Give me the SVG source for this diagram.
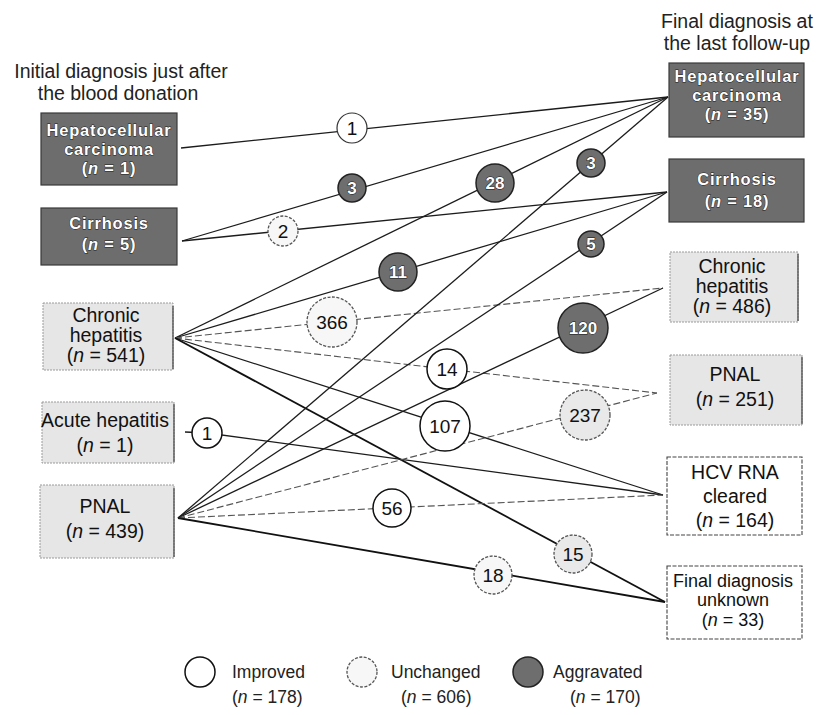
<svg xmlns="http://www.w3.org/2000/svg" width="825" height="715" viewBox="0 0 825 715">
<style>
.t{font-family:"Liberation Sans",Arial,sans-serif;fill:#111;text-anchor:middle}
.lt{font-size:19.5px}
.ttl{font-family:"Liberation Sans",Arial,sans-serif;fill:#222;font-size:19.5px;text-anchor:middle}
.dt{font-family:"Liberation Sans",Arial,sans-serif;font-weight:bold;font-size:16.5px;fill:#fff;stroke:#1a1a1a;stroke-width:0.9;paint-order:stroke;letter-spacing:0.8px;text-anchor:middle}
.dbox{fill:#6d6d6d;stroke:#3a3a3a;stroke-width:1.2}
.lbox{fill:#e6e6e6;stroke:#9a9a9a;stroke-width:1;stroke-dasharray:2 1}
.edge{stroke:#555;stroke-width:1.4}
.ln{fill:none;stroke:#1c1c1c;stroke-width:1.3}
.lnb{fill:none;stroke:#111;stroke-width:1.8}
.lnl{fill:none;stroke:#555;stroke-width:1.1;stroke-dasharray:7 3}
.imp{fill:#fff;stroke:#111;stroke-width:1.5}
.unc{fill:#f7f7f7;stroke:#555;stroke-width:1.3;stroke-dasharray:3 1.5}
.unc2{fill:#e9e9e9;stroke:#555;stroke-width:1.3;stroke-dasharray:3 1.5}
.agg{fill:#6e6e6e;stroke:#222;stroke-width:1.5}
.num{font-family:"Liberation Sans",Arial,sans-serif;font-size:19px;fill:#111;text-anchor:middle}
.wnum{font-family:"Liberation Sans",Arial,sans-serif;font-weight:bold;font-size:17px;fill:#fff;stroke:#111;stroke-width:0.9;paint-order:stroke;text-anchor:middle}
.lg{font-family:"Liberation Sans",Arial,sans-serif;font-size:17.5px;fill:#222}
</style>

<text class="ttl" x="121" y="78">Initial diagnosis just after</text>
<text class="ttl" x="118" y="100">the blood donation</text>
<text class="ttl" x="737" y="28">Final diagnosis at</text>
<text class="ttl" x="737" y="50">the last follow-up</text>

<g id="connectors">
  <line class="ln" x1="181" y1="148" x2="668" y2="97"/>
  <line class="ln" x1="182" y1="241" x2="668" y2="97"/>
  <line class="ln" x1="182" y1="241" x2="667" y2="192"/>
  <line class="ln" x1="175" y1="338" x2="668" y2="97"/>
  <line class="ln" x1="175" y1="338" x2="667" y2="192"/>
  <line class="lnl" x1="175" y1="338" x2="663" y2="288"/>
  <line class="lnl" x1="175" y1="338" x2="657" y2="393"/>
  <line class="ln" x1="175" y1="338" x2="663" y2="495"/>
  <line class="lnb" x1="175" y1="338" x2="665" y2="602"/>
  <polyline class="ln" points="185,432 207,433 663,495"/>
  <line class="ln" x1="178" y1="518" x2="668" y2="97"/>
  <line class="ln" x1="178" y1="518" x2="667" y2="192"/>
  <line class="ln" x1="178" y1="518" x2="663" y2="288"/>
  <line class="lnl" x1="178" y1="518" x2="657" y2="393"/>
  <line class="lnl" x1="178" y1="518" x2="663" y2="495"/>
  <line class="lnb" x1="178" y1="518" x2="665" y2="602"/>
</g>

<g id="src-hcc">
  <rect class="dbox" x="41" y="113" width="136" height="72"/>
  <text class="dt" x="109" y="136">Hepatocellular</text>
  <text class="dt" x="109" y="155">carcinoma</text>
  <text class="dt" x="109" y="174">(<tspan font-style="italic">n</tspan> = 1)</text>
</g>
<g id="src-cirrhosis">
  <rect class="dbox" x="41" y="208" width="136" height="57"/>
  <text class="dt" x="109" y="229">Cirrhosis</text>
  <text class="dt" x="109" y="250">(<tspan font-style="italic">n</tspan> = 5)</text>
</g>
<g id="src-chronic">
  <rect class="lbox" x="43" y="303" width="130" height="67"/>
  <line class="edge" x1="173" y1="306" x2="173" y2="369"/>
  <text class="t lt" x="106" y="322">Chronic</text>
  <text class="t lt" x="106" y="342">hepatitis</text>
  <text class="t lt" x="106" y="362">(<tspan font-style="italic">n</tspan> = 541)</text>
</g>
<g id="src-acute">
  <rect class="lbox" x="42" y="402" width="132" height="61"/>
  <line class="edge" x1="174" y1="404" x2="174" y2="462"/>
  <text class="t lt" x="105" y="427">Acute hepatitis</text>
  <text class="t lt" x="105" y="452">(<tspan font-style="italic">n</tspan> = 1)</text>
</g>
<g id="src-pnal">
  <rect class="lbox" x="40" y="485" width="134" height="73"/>
  <line class="edge" x1="174" y1="488" x2="174" y2="557"/>
  <text class="t lt" x="105" y="513">PNAL</text>
  <text class="t lt" x="105" y="538">(<tspan font-style="italic">n</tspan> = 439)</text>
</g>

<g id="dst-hcc">
  <rect class="dbox" x="669" y="63" width="135" height="74"/>
  <text class="dt" x="737" y="82">Hepatocellular</text>
  <text class="dt" x="737" y="101">carcinoma</text>
  <text class="dt" x="737" y="120">(<tspan font-style="italic">n</tspan> = 35)</text>
</g>
<g id="dst-cirrhosis">
  <rect class="dbox" x="669" y="159" width="135" height="63"/>
  <text class="dt" x="737" y="185">Cirrhosis</text>
  <text class="dt" x="737" y="207">(<tspan font-style="italic">n</tspan> = 18)</text>
</g>
<g id="dst-chronic">
  <rect class="lbox" x="670" y="252" width="128" height="70"/>
  <line class="edge" x1="798" y1="254" x2="798" y2="321"/>
  <text class="t lt" x="732" y="273">Chronic</text>
  <text class="t lt" x="732" y="293">hepatitis</text>
  <text class="t lt" x="732" y="313">(<tspan font-style="italic">n</tspan> = 486)</text>
</g>
<g id="dst-pnal">
  <rect class="lbox" x="670" y="355" width="132" height="70"/>
  <line class="edge" x1="802" y1="357" x2="802" y2="424"/>
  <text class="t lt" x="735" y="381">PNAL</text>
  <text class="t lt" x="735" y="406">(<tspan font-style="italic">n</tspan> = 251)</text>
</g>
<g id="dst-hcv">
  <rect x="667" y="457" width="135" height="78" fill="#fff" stroke="#444" stroke-width="1.1" stroke-dasharray="4 1.5"/>
  <text class="t lt" x="735" y="479">HCV RNA</text>
  <text class="t lt" x="735" y="503">cleared</text>
  <text class="t lt" x="735" y="527">(<tspan font-style="italic">n</tspan> = 164)</text>
</g>
<g id="dst-unknown">
  <rect x="667" y="566" width="135" height="73" fill="#fff" stroke="#444" stroke-width="1.1" stroke-dasharray="4 1.5"/>
  <text class="t" font-size="18" x="733" y="587">Final diagnosis</text>
  <text class="t" font-size="18" x="733" y="606">unknown</text>
  <text class="t" font-size="18" x="733" y="626">(<tspan font-style="italic">n</tspan> = 33)</text>
</g>

<g id="counts">
  <g id="c-hcc-hcc"><circle cx="352" cy="128" r="15" fill="#fff" stroke="#333" stroke-width="1.2"/><text class="num" x="352" y="135">1</text></g>
  <g id="c-cir-hcc"><circle class="agg" cx="352" cy="188" r="14"/><text class="wnum" x="352" y="194">3</text></g>
  <g id="c-cir-cir"><circle class="unc" cx="283" cy="231" r="15"/><text class="num" x="283" y="238">2</text></g>
  <g id="c-ch-hcc"><circle class="agg" cx="495" cy="183" r="19"/><text class="wnum" x="495" y="189">28</text></g>
  <g id="c-pn-hcc"><circle class="agg" cx="591" cy="163" r="14"/><text class="wnum" x="591" y="169">3</text></g>
  <g id="c-ch-cir"><circle class="agg" cx="398" cy="272" r="19"/><text class="wnum" x="398" y="278">11</text></g>
  <g id="c-pn-cir"><circle class="agg" cx="591" cy="244" r="13"/><text class="wnum" x="591" y="250">5</text></g>
  <g id="c-ch-ch"><circle class="unc" cx="332" cy="322" r="25"/><text class="num" x="332" y="329">366</text></g>
  <g id="c-pn-ch"><circle class="agg" cx="583" cy="328" r="25"/><text class="wnum" x="583" y="334">120</text></g>
  <g id="c-ch-pn"><circle class="imp" cx="447" cy="369" r="20"/><text class="num" x="447" y="376">14</text></g>
  <g id="c-ch-hcv"><circle class="imp" cx="445" cy="426" r="25"/><text class="num" x="445" y="433">107</text></g>
  <g id="c-pn-pn"><circle class="unc2" cx="585" cy="415" r="25"/><text class="num" x="585" y="422">237</text></g>
  <g id="c-ac-hcv"><circle class="imp" cx="207" cy="433" r="15"/><text class="num" x="207" y="440">1</text></g>
  <g id="c-pn-hcv"><circle class="imp" cx="392" cy="508" r="19"/><text class="num" x="392" y="515">56</text></g>
  <g id="c-ch-unk"><circle class="unc2" cx="573" cy="554" r="19"/><text class="num" x="573" y="561">15</text></g>
  <g id="c-pn-unk"><circle class="unc" cx="493" cy="575" r="19"/><text class="num" x="493" y="582">18</text></g>
</g>

<g id="legend">
  <circle class="imp" cx="200" cy="672" r="15"/>
  <text class="lg" x="232" y="678">Improved</text>
  <text class="lg" x="232" y="703">(<tspan font-style="italic">n</tspan> = 178)</text>
  <circle class="unc" cx="362" cy="672" r="15"/>
  <text class="lg" x="391" y="678">Unchanged</text>
  <text class="lg" x="401" y="703">(<tspan font-style="italic">n</tspan> = 606)</text>
  <circle class="agg" cx="528" cy="672" r="15"/>
  <text class="lg" x="553" y="678">Aggravated</text>
  <text class="lg" x="570" y="703">(<tspan font-style="italic">n</tspan> = 170)</text>
</g>
</svg>
